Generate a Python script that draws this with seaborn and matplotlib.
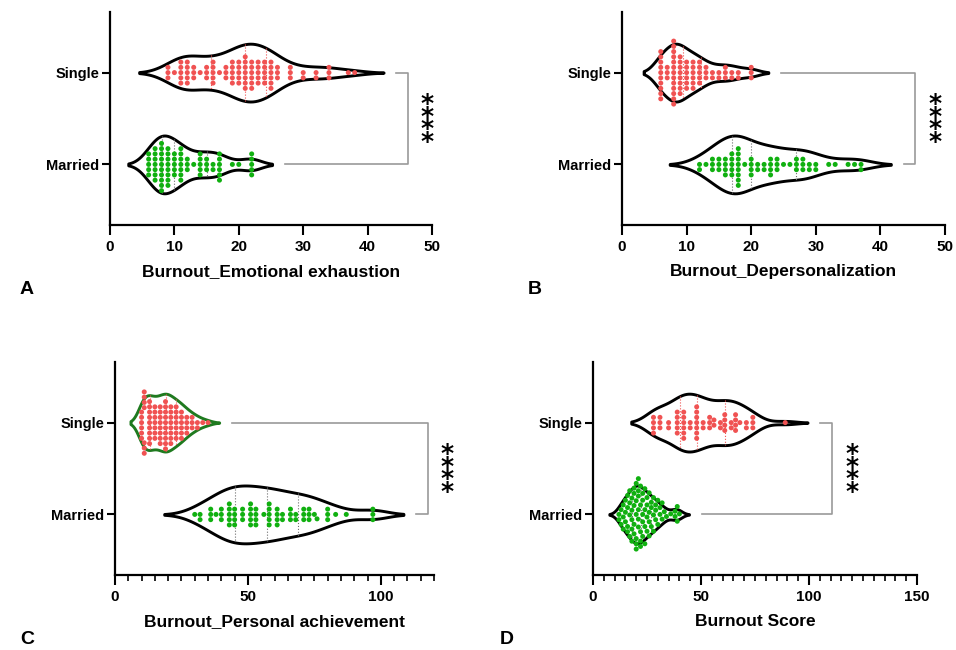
import numpy as np
import pandas as pd
import matplotlib
matplotlib.use("Agg")
import matplotlib.pyplot as plt
import seaborn as sns
from matplotlib.collections import PolyCollection
from matplotlib.ticker import MultipleLocator

plt.rcParams['font.family'] = ['Liberation Sans', 'DejaVu Sans']

groups = ["Single", "Married"]

# A - emotional exhaustion (value, how many dots at that value)
ee_single_vals = [9, 10, 11, 12, 13, 14, 15, 16, 17, 18, 19, 20, 21, 22, 23, 24, 25, 26, 28, 30, 32, 34, 37, 38]
ee_single_n = [3, 1, 5, 5, 3, 1, 3, 5, 1, 3, 5, 5, 7, 6, 5, 5, 6, 3, 3, 2, 2, 3, 1, 1]
ee_married_vals = [6, 7, 8, 9, 10, 11, 12, 13, 14, 15, 16, 17, 19, 20, 22]
ee_married_n = [5, 7, 10, 8, 5, 7, 3, 1, 5, 3, 2, 6, 1, 1, 5]

# B - depersonalization
dp_single_vals = [6, 7, 8, 9, 10, 11, 12, 13, 14, 15, 16, 17, 18, 20]
dp_single_n = [10, 3, 13, 8, 6, 6, 5, 3, 2, 2, 3, 2, 2, 3]
dp_married_vals = [12, 13, 14, 15, 16, 17, 18, 19, 20, 21, 22, 23, 24, 25, 26, 27, 28, 29, 30, 32, 33, 35, 36, 37]
dp_married_n = [2, 1, 3, 3, 4, 5, 8, 1, 4, 2, 2, 4, 3, 1, 1, 3, 3, 2, 2, 1, 1, 1, 1, 2]

# C - personal achievement
pa_single_vals = [10, 11, 13, 15, 17, 19, 21, 23, 25, 27, 29, 31, 33, 35]
pa_single_n = [6, 7, 9, 7, 8, 10, 8, 7, 6, 4, 3, 2, 1, 1]
pa_married_vals = [30, 32, 36, 38, 40, 43, 45, 48, 51, 53, 56, 58, 61, 63, 66, 68, 71, 73, 75, 76, 80, 83, 87, 97]
pa_married_n = [1, 2, 3, 1, 3, 5, 4, 3, 5, 4, 1, 5, 4, 2, 3, 2, 3, 3, 1, 1, 3, 1, 1, 3]

# D - burnout score
sc_single_vals = [28, 31, 35, 39, 42, 45, 48, 51, 54, 56, 59, 61, 64, 66, 68, 71, 74, 89]
sc_single_n = [4, 3, 2, 5, 6, 2, 7, 2, 3, 2, 2, 4, 2, 4, 1, 2, 3, 1]
sc_married_vals = [12, 13, 14, 15, 16, 17, 18, 19, 20, 21, 22, 23, 24, 25, 26, 27, 28, 29, 30, 31, 32, 33, 34, 36, 38, 39, 40]
sc_married_n = [2, 2, 3, 3, 4, 4, 5, 5, 6, 6, 5, 5, 4, 4, 4, 3, 3, 3, 2, 2, 2, 1, 1, 1, 2, 2, 1]

red = '#f05252'
green = '#10b010'
pal = {"Single": red, "Married": green}


def make_df(sv, sn, mv, mn):
    s = np.repeat(sv, sn)
    m = np.repeat(mv, mn)
    return pd.DataFrame({'group': ['Single'] * len(s) + ['Married'] * len(m),
                         'value': np.concatenate([s, m])})


panels = [
    dict(df=make_df(ee_single_vals, ee_single_n, ee_married_vals, ee_married_n),
         label='Burnout_Emotional exhaustion', xmax=50, major=10, minor=None,
         rect=(110, 432, 12, 225), letter='A', lpos=(20, 290), single_edge='black'),
    dict(df=make_df(dp_single_vals, dp_single_n, dp_married_vals, dp_married_n),
         label='Burnout_Depersonalization', xmax=50, major=10, minor=None,
         rect=(622, 945, 12, 225), letter='B', lpos=(528, 290), single_edge='black'),
    dict(df=make_df(pa_single_vals, pa_single_n, pa_married_vals, pa_married_n),
         label='Burnout_Personal achievement', xmax=120, major=50, minor=5,
         rect=(115, 434, 362, 575), letter='C', lpos=(20, 640), single_edge='#1f7a1f'),
    dict(df=make_df(sc_single_vals, sc_single_n, sc_married_vals, sc_married_n),
         label='Burnout Score', xmax=150, major=50, minor=5,
         rect=(593, 917, 362, 575), letter='D', lpos=(500, 640), single_edge='black'),
]

W, H = 956, 650
fig = plt.figure(figsize=(W / 100, H / 100), dpi=100)

for p in panels:
    l, r, t, b = p['rect']
    ax = fig.add_axes([l / W, (H - b) / H, (r - l) / W, (b - t) / H])
    df = p['df']

    sns.violinplot(data=df, x='value', y='group', order=groups, orient='h',
                   color='white', saturation=1, linecolor='black', linewidth=2.1,
                   inner='quart', density_norm='width', width=0.63,
                   bw_adjust=0.8, cut=2, ax=ax)
    sns.swarmplot(data=df, x='value', y='group', order=groups, hue='group',
                  palette=pal, size=3.6, linewidth=0, legend=False,
                  warn_thresh=1, ax=ax)

    # violin outlines / inner quartile lines
    ends = {}
    for c in ax.collections:
        if isinstance(c, PolyCollection):
            v = c.get_paths()[0].vertices
            k = int(round(v[:, 1].mean()))
            ends[k] = v[:, 0].max()
            c.set_zorder(0.5)
            if k == 0:
                c.set_edgecolor(p['single_edge'])
    for ln in ax.lines:
        k = int(round(np.mean(ln.get_ydata())))
        ln.set_color(red if k == 0 else '#707070')
        ln.set_linestyle(':')
        ln.set_linewidth(0.8)
        ln.set_zorder(0.8)

    ax.set_xlim(0, p['xmax'])
    ax.set_ylim(1.66, -0.66)
    ax.xaxis.set_major_locator(MultipleLocator(p['major']))
    if p['minor']:
        ax.xaxis.set_minor_locator(MultipleLocator(p['minor']))
    ax.tick_params(axis='x', which='major', direction='out', length=7, width=1.5,
                   labelsize=11, pad=4, color='black')
    ax.tick_params(axis='y', which='major', direction='out', length=6, width=1.5,
                   labelsize=10.5, pad=1.5, color='black')
    ax.tick_params(axis='x', which='minor', direction='out', length=4, width=1.2)
    for lab in ax.get_xticklabels() + ax.get_yticklabels():
        lab.set_fontweight('bold')
    ax.set_xlabel(p['label'], fontsize=12.5, fontweight='bold', labelpad=7)
    ax.set_ylabel('')
    for s in ['top', 'right']:
        ax.spines[s].set_visible(False)
    for s in ['left', 'bottom']:
        ax.spines[s].set_linewidth(1.6)

    # significance bracket
    xm = p['xmax']
    xv = max(ends.values()) + 0.076 * xm
    ax.plot([ends[0] + 0.04 * xm, xv, xv, ends[1] + 0.04 * xm], [0, 0, 1, 1],
            color='#9a9a9a', lw=1.2, clip_on=False)
    ax.text(xv + 0.06 * xm, 0.55, '\n'.join('****'), ha='center', va='center',
            fontsize=18, fontweight='bold', family='DejaVu Sans', linespacing=0.4,
            clip_on=False)

    fig.text(p['lpos'][0] / W, 1 - p['lpos'][1] / H, p['letter'], fontsize=14,
             fontweight='bold', ha='left', va='center')

fig.savefig('out.png', dpi=100)
